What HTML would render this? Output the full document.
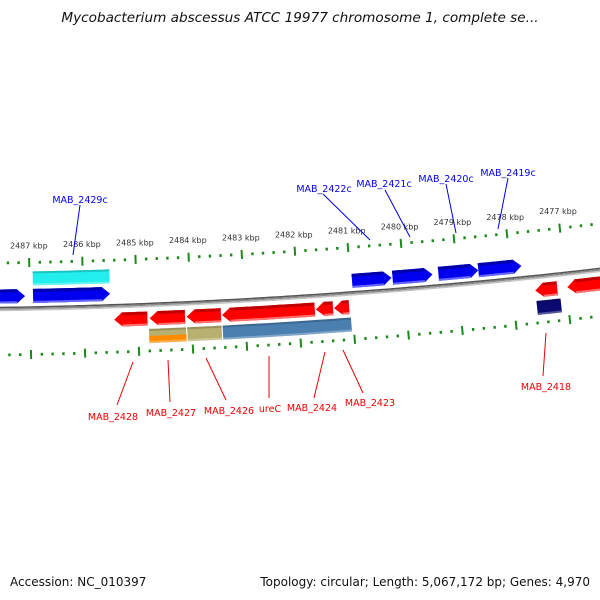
<!DOCTYPE html>
<html><head><meta charset="utf-8"><style>
html,body{margin:0;padding:0;background:#fff;}
svg{display:block;font-family:"DejaVu Sans","Liberation Sans",sans-serif;}
</style></head><body>
<svg id="map" width="600" height="600" viewBox="0 0 600 600" xmlns="http://www.w3.org/2000/svg">
<text x="300" y="22" text-anchor="middle" font-size="13.6" font-style="italic" fill="#111">Mycobacterium abscessus ATCC 19977 chromosome 1, complete se...</text>
<g id="ticks"></g>
<g id="backbone"></g>
<g id="genes"></g>
<g id="labels"></g>
<text x="10" y="586" font-size="12" fill="#111">Accession: NC_010397</text>
<text x="590" y="586" text-anchor="end" font-size="12" fill="#111">Topology: circular; Length: 5,067,172 bp; Genes: 4,970</text>
</svg>
<script>
const tickKbp = [2488, 2487, 2486, 2485, 2484, 2483, 2482, 2481, 2480, 2479, 2478, 2477];
const tickLabels = ["2488 kbp","2487 kbp","2486 kbp","2485 kbp","2484 kbp","2483 kbp","2482 kbp","2481 kbp","2480 kbp","2479 kbp","2478 kbp","2477 kbp"];
const geneNames = ["fwd-a","fwd-b","fwd-c","fwd-d","fwd-e","fwd-f","rev-a","rev-b","rev-c","rev-d","rev-e","rev-f","rev-g","rev-h"];
const geneStart = [2487.70,2486.94,2480.97,2480.21,2479.35,2478.60,2485.44,2484.78,2484.09,2483.43,2481.68,2481.34,2477.58,2476.98];
const geneEnd   = [2487.09,2485.50,2480.23,2479.46,2478.60,2477.79,2484.82,2484.12,2483.45,2481.70,2481.36,2481.06,2477.17,2476.32];
const geneStrand= [1,1,1,1,1,1,-1,-1,-1,-1,-1,-1,-1,-1];
const featNames = ["cyan-feature","tan-orange-feature","tan-feature","steelblue-feature","navy-feature"];
const featStart = [2486.94,2484.80,2484.09,2483.43,2477.58];
const featEnd   = [2485.50,2484.11,2483.45,2481.04,2477.13];
const featColor = ["#22eeee","#b8b070","#b8b070","#4a7fb0","#0a0a70"];
const featRow   = [-1,1,1,1,1];

const R=6000, A0=0.065, K0=2481.96, S=53.6;
const CX=300-R*Math.sin(A0), CY=297-R*Math.cos(A0);
function pos(kb, off){const a=A0+(K0-kb)*S/R;const r=R+off;return [CX+r*Math.sin(a), CY+r*Math.cos(a)];}
const NS="http://www.w3.org/2000/svg";
function mk(tag, parent){const e=document.createElementNS(NS,tag);document.getElementById(parent).appendChild(e);return e;}
function pts(list){return list.map(p=>p[0].toFixed(1)+","+p[1].toFixed(1)).join(" ");}

for(const [off,col,w] of [[-1.5,"#555",1.5],[0,"#8a8a8a",1.6],[1.5,"#c4c4c4",1.5]]){
  const l=mk("polyline","backbone");
  
  
  const arr=[];for(let k=2488.5;k>=2475.5;k-=0.1)arr.push(pos(k,off));
  l.setAttribute("points",pts(arr));l.setAttribute("fill","none");l.setAttribute("stroke",col);l.setAttribute("stroke-width",w);
}
const lo=2475.4, hi=2488.6;
for(let i=Math.round(lo*5);i<=Math.round(hi*5);i++){
  const kb=i/5; const major=(i%5===0);
  for(const side of [-1,1]){
    const c=side*46, h=major?4.5:1.4;
    const p1=pos(kb,c-h), p2=pos(kb,c+h);
    const t=mk("line","ticks");
    
    
    t.setAttribute("x1",p1[0]);t.setAttribute("y1",p1[1]);t.setAttribute("x2",p2[0]);t.setAttribute("y2",p2[1]);
    t.setAttribute("stroke","#1a8a1a");t.setAttribute("stroke-width",major?2:2.4);
  }
}
tickKbp.forEach((kb,i)=>{
  const p=pos(kb,-63);
  const t=mk("text","ticks");
  
  
  t.setAttribute("x",p[0]);t.setAttribute("y",p[1]+3);t.setAttribute("text-anchor","middle");t.setAttribute("font-size","8");t.setAttribute("fill","#333");
  t.textContent=tickLabels[i];
});
function band(s,e,off,h,col,parent,name,arrow){
  const N=12;
  let a=s,b=e;
  const head=8/S;
  let poly;
  if(arrow){
    const dir=Math.sign(a-b);
    const bodyEnd=b+dir*head;
    const t2=[],b2=[];
    for(let j=0;j<=N;j++){const k=a+(bodyEnd-a)*j/N;t2.push(pos(k,off-h/2));b2.push(pos(k,off+h/2));}
    poly=[...t2,pos(b,off),...b2.reverse()];
  } else {
    const top=[],bot=[];
    for(let j=0;j<=N;j++){const k=a+(b-a)*j/N;top.push(pos(k,off-h/2));bot.push(pos(k,off+h/2));}
    poly=[...top,...bot.reverse()];
  }
  const g=mk("polygon",parent);
  
  
  g.setAttribute("points",pts(poly));g.setAttribute("fill",col);
  return g;
}
geneStart.forEach((s,i)=>{
  const fwd=geneStrand[i]>0; const off=fwd?-12.5:13.5; const h=14;
  const from=fwd?Math.max(s,geneEnd[i]):Math.min(s,geneEnd[i]);
  const to=fwd?Math.min(s,geneEnd[i]):Math.max(s,geneEnd[i]);
  band(from,to,off,h,fwd?"#0000ee":"#ff0000","genes",geneNames[i],true);
  const head=8/S; const bodyTo=to+(fwd?head:-head);
  band(from,bodyTo,off-h/2+1.5,3,fwd?"#0000a8":"#c00000","genes",'gene-top-edge',false);
  band(from,bodyTo,off+h/2-1,2,fwd?"#6666ff":"#ff7070","genes",'gene-bottom-edge',false);
});
featStart.forEach((s,i)=>{
  const off=featRow[i]<0?-30:31, h=14;
  band(s,featEnd[i],off,h,featColor[i],"genes",featNames[i],false);
  if(i===1) band(s,featEnd[i],off+3.5,7,"#ff8c00","genes",'orange-feature',false);
  band(s,featEnd[i],off-h/2+1,2,"rgba(0,0,0,0.18)","genes",'feature-top-edge',false);
  band(s,featEnd[i],off+h/2-1,2,"rgba(255,255,255,0.3)","genes",'feature-bottom-edge',false);
});
const labelText=["MAB_2429c","MAB_2422c","MAB_2421c","MAB_2420c","MAB_2419c","MAB_2428","MAB_2427","MAB_2426","ureC","MAB_2424","MAB_2423","MAB_2418"];
const labelX=[80,324,384,446,508,113,171,229,270,312,370,546];
const labelY=[203,192,187,182,176,420,416,414,412,411,406,390];
const lineX1=[80,323,385,446,508,133,168,206,269,325,343,546];
const lineY1=[205,194,190,184,178,362,360,358,356,352,350,333];
const lineX2=[73,370,410,456,498,117,170,226,269,314,363,543];
const lineY2=[255,240,237,233,229,405,402,400,398,398,393,376];
labelText.forEach((t,i)=>{
  const blue=i<5, col=blue?"#0000ee":"#ee0000";
  const l=mk("line","labels");
  
  
  l.setAttribute("x1",lineX1[i]);l.setAttribute("y1",lineY1[i]);l.setAttribute("x2",lineX2[i]);l.setAttribute("y2",lineY2[i]);
  l.setAttribute("stroke",col);l.setAttribute("stroke-width","1");
  const tx=mk("text","labels");
  
  
  tx.setAttribute("x",labelX[i]);tx.setAttribute("y",labelY[i]);tx.setAttribute("text-anchor","middle");tx.setAttribute("font-size","9.5");tx.setAttribute("fill",col);
  tx.textContent=t;
});
</script>
</body></html>
